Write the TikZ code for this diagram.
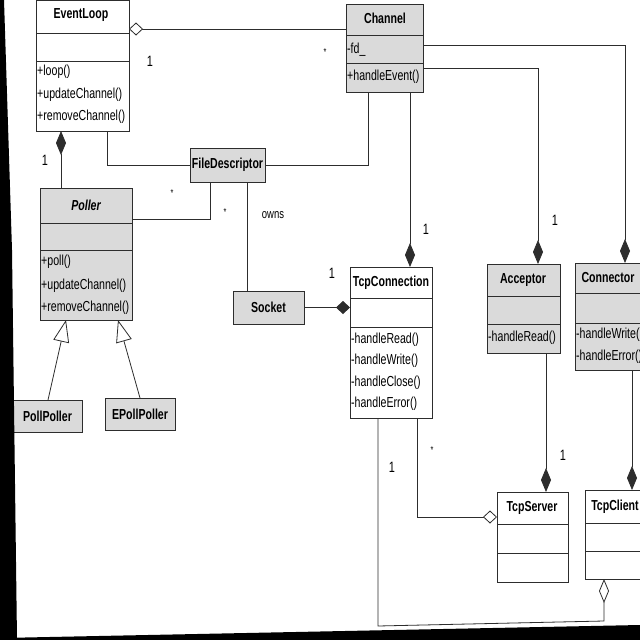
\documentclass[tikz,border=0pt]{standalone}
\usepackage{fontspec}
\setmainfont{Liberation Sans}[FakeStretch=0.73]
\usetikzlibrary{arrows.meta}
\definecolor{boxgray}{RGB}{218,218,218}
\definecolor{ink}{RGB}{45,45,45}
\tikzset{
  cls/.style={draw=ink, line width=0.9pt, anchor=north west, inner sep=0pt, outer sep=0pt},
  sbox/.style={draw=ink, line width=0.9pt, fill=boxgray, inner sep=0pt, outer sep=0pt, font=\bfseries\fontsize{14.5}{16}\selectfont},
  ttl/.style={font=\bfseries\fontsize{14.5}{16}\selectfont, inner sep=0pt},
  mem/.style={font=\fontsize{14.5}{16}\selectfont, anchor=west, inner sep=0pt},
  lbl/.style={font=\fontsize{15}{17}\selectfont, inner sep=0pt},
  star/.style={font=\fontsize{10}{11}\selectfont, inner sep=0pt},
  conn/.style={draw=ink, line width=0.8pt},
  fdh/.style={conn, -{Diamond[length=14pt,width=13pt]}},
  odh/.style={conn, -{Diamond[open,length=14pt,width=13pt,fill=white]}},
  fdv/.style={conn, -{Diamond[length=24pt,width=10pt]}},
  odv/.style={conn, -{Diamond[open,length=24pt,width=10pt,fill=white]}},
  inh/.style={conn, -{Triangle[open,length=22pt,width=16pt,fill=white]}}
}
% #1 name, #2 x1, #3 y1, #4 x2, #5 y2 (name bottom), #6 y3 (attr bottom), #7 y4 (bottom), #8 fill
\newcommand\myclass[8]{%
  \node[cls, fill=#8, minimum width={(#4-#2)*1pt}, minimum height={(#7-#3)*1pt}] (#1) at (#2,#3) {};
  \draw[draw=ink, line width=0.9pt] (#2,#5) -- (#4,#5) (#2,#6) -- (#4,#6);
}
\begin{document}
\begin{tikzpicture}[x=1pt,y=-1pt]
\useasboundingbox (0,0) rectangle (640,640);
\clip (0,0) rectangle (640,640);
\fill[white] (0,0) rectangle (640,640);

% classes with compartments
\myclass{el}{36}{0}{129}{33}{61}{131}{white}
\myclass{ch}{346}{4}{423}{35}{63}{92}{boxgray}
\myclass{pl}{40}{188}{132}{223}{250}{320}{boxgray}
\myclass{tc}{350}{267}{432}{298}{327}{418}{white}
\myclass{acc}{487}{264}{560}{296}{324}{353}{boxgray}
\myclass{con}{575}{263}{641}{293}{323}{370}{boxgray}
\myclass{ts}{497}{492}{568}{524}{553}{582}{white}
\myclass{tcl}{585}{490}{646}{523}{551}{579}{white}

% titles
\node[ttl] (el-t) at (81,15) {EventLoop};
\node[ttl] (ch-t) at (385,18) {Channel};
\node[ttl, font=\bfseries\itshape\fontsize{14.5}{16}\selectfont] (pl-t) at (86,205) {Poller};
\node[ttl] (tc-t) at (391,283) {TcpConnection};
\node[ttl] (acc-t) at (523,280) {Acceptor};
\node[ttl] (con-t) at (608,278) {Connector};
\node[ttl] (ts-t) at (532,508) {TcpServer};
\node[ttl] (tcl-t) at (615,507) {TcpClient};

% members
\node[mem] (el-m1) at (37,72) {+loop()};
\node[mem] (el-m2) at (37,95) {+updateChannel()};
\node[mem] (el-m3) at (37,117) {+removeChannel()};
\node[mem] (ch-a1) at (347,50) {-fd\_};
\node[mem] (ch-m1) at (347,77) {+handleEvent()};
\node[mem] (pl-m1) at (41,262) {+poll()};
\node[mem] (pl-m2) at (41,286) {+updateChannel()};
\node[mem] (pl-m3) at (41,308) {+removeChannel()};
\node[mem] (tc-m1) at (351,340) {-handleRead()};
\node[mem] (tc-m2) at (351,361) {-handleWrite()};
\node[mem] (tc-m3) at (351,383) {-handleClose()};
\node[mem] (tc-m4) at (351,404) {-handleError()};
\node[mem] (acc-m1) at (488,338) {-handleRead()};
\node[mem] (con-m1) at (576,335) {-handleWrite()};
\node[mem] (con-m2) at (576,357) {-handleError()};

% simple boxes
\node[sbox, minimum width=75pt, minimum height=34pt] (fd) at (227.5,165) {FileDescriptor};
\node[sbox, minimum width=71pt, minimum height=33pt] (sock) at (268.5,307.5) {Socket};
\node[sbox, minimum width=69pt, minimum height=32pt] (pp) at (47.5,416) {PollPoller};
\node[sbox, minimum width=70pt, minimum height=32pt] (epp) at (140,414) {EPollPoller};

% connectors
\draw[odh] (ch.west |- 0,29) -- (el.east |- 0,29);
\draw[fdv] (pl.north -| 61,0) -- (el.south -| 61,0);
\draw[conn] (el.south -| 107,0) |- (fd.west);
\draw[conn] (ch.south -| 368,0) |- (fd.east);
\draw[fdv] (ch.south -| 410,0) -- (tc.north -| 410,0);
\draw[fdv] (ch.east |- 0,68) -| (acc.north -| 538,0);
\draw[fdv] (ch.east |- 0,45) -| (con.north -| 625,0);
\draw[conn] (fd.south -| 210,0) |- (pl.east |- 0,219);
\draw[conn] (fd.south -| 247,0) -- (sock.north -| 247,0);
\draw[fdh] (sock.east) -- (tc.west |- sock.east);
\draw[inh] (pp.north -| 48,0) -- (pl.south -| 66,0);
\draw[inh] (epp.north -| 140,0) -- (pl.south -| 118,0);
\draw[odh] (tc.south -| 417,0) |- (ts.west |- 0,517);
\draw[fdv] (acc.south -| 546,0) -- (ts.north -| 546,0);
\draw[fdv] (con.south -| 632,0) -- (tcl.north -| 632,0);
\coordinate (bl) at (378,626);
\coordinate (br) at (604,621);
\draw[odv] (tc.south -| bl) -- (bl) -- (br) -- (tcl.south -| br);

% multiplicities and labels
\node[lbl] (m1) at (150,61) {1};
\node[star] (m2) at (325,52) {*};
\node[lbl] (m3) at (45,160) {1};
\node[star] (m4) at (172,193) {*};
\node[star] (m5) at (225,212) {*};
\node[lbl, font=\fontsize{13}{15}\selectfont] (owns) at (273,215) {owns};
\node[lbl] (m6) at (426,229) {1};
\node[lbl] (m7) at (332,273) {1};
\node[lbl] (m8) at (555,220) {1};
\node[lbl] (m9) at (392,467) {1};
\node[star] (m10) at (432,450) {*};
\node[lbl] (m11) at (563,455) {1};

% black scan borders
\fill[black] (0,0) -- (4,0) -- (12,250) -- (17,640) -- (0,640) -- cycle;
\fill[black] (0,638) -- (640,625) -- (640,640) -- (0,640) -- cycle;
\end{tikzpicture}
\end{document}
